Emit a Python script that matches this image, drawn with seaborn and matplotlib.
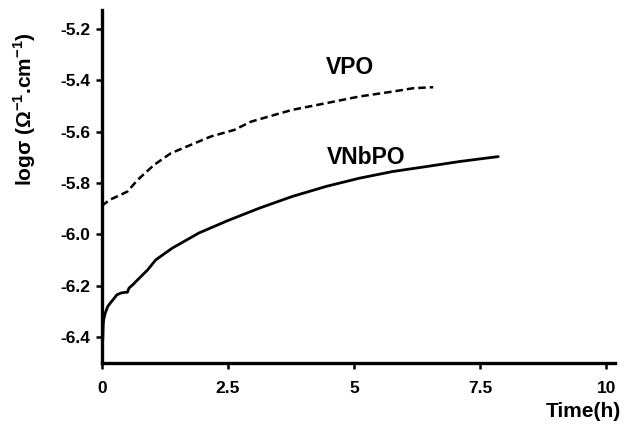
import matplotlib
matplotlib.use("Agg")
import matplotlib.pyplot as plt
import seaborn as sns

# Values
vpo_time = [0, 0.16, 0.35, 0.51, 0.71, 1.04, 1.37, 1.77, 2.16, 2.63, 2.96,
            3.42, 3.78, 4.45, 5.11, 5.77, 6.17, 6.57]
vpo_logsigma = [-5.889, -5.865, -5.848, -5.833, -5.788, -5.729, -5.684, -5.651,
                -5.619, -5.593, -5.561, -5.535, -5.515, -5.489, -5.463, -5.444,
                -5.431, -5.427]

vnbpo_time = [0, 0.005, 0.01, 0.015, 0.02, 0.03, 0.04, 0.07, 0.12, 0.17, 0.24,
              0.3, 0.38, 0.47, 0.51, 0.54, 0.62, 0.71, 0.91, 1.07, 1.4, 1.93,
              2.5, 3.12, 3.78, 4.45, 5.11, 5.77, 6.43, 7.1, 7.86]
vnbpo_logsigma = [-6.49, -6.42, -6.45, -6.38, -6.41, -6.35, -6.33, -6.306,
                  -6.28, -6.267, -6.25, -6.235, -6.228, -6.225, -6.225, -6.209,
                  -6.195, -6.177, -6.138, -6.099, -6.053, -5.994, -5.946, -5.898,
                  -5.852, -5.813, -5.781, -5.755, -5.736, -5.716, -5.697]

x_ticks = [0, 2.5, 5, 7.5, 10]
x_tick_labels = ["0", "2.5", "5", "7.5", "10"]
y_ticks = [-6.4, -6.2, -6.0, -5.8, -5.6, -5.4, -5.2]
y_tick_labels = ["-6.4", "-6.2", "-6.0", "-5.8", "-5.6", "-5.4", "-5.2"]

sns.set_style("ticks")
plt.rcParams["font.family"] = ["Liberation Sans", "DejaVu Sans"]
plt.rcParams["font.weight"] = "bold"
plt.rcParams["axes.unicode_minus"] = False
plt.rcParams["text.color"] = "black"
plt.rcParams["axes.labelcolor"] = "black"

fig = plt.figure(figsize=(6.24, 4.29), dpi=100)
ax = fig.add_axes([0.163, 0.154, 0.823, 0.823])

# Curves
sns.lineplot(x=vpo_time, y=vpo_logsigma, ax=ax, color="black", sort=False,
             linewidth=1.8, linestyle=(0, (3.0, 1.6)))
sns.lineplot(x=vnbpo_time, y=vnbpo_logsigma, ax=ax, color="black", sort=False,
             linewidth=2.0)

ax.text(4.93, -5.352, "VPO", fontsize=16.5, fontweight="bold",
        ha="center", va="center", color="black")
ax.text(5.25, -5.702, "VNbPO", fontsize=16.5, fontweight="bold",
        ha="center", va="center", color="black")

ax.set_xlim(0, 10.18)
ax.set_ylim(-6.5, -5.126)
ax.set_xticks(x_ticks)
ax.set_xticklabels(x_tick_labels)
ax.set_yticks(y_ticks)
ax.set_yticklabels(y_tick_labels)

ax.spines["top"].set_visible(False)
ax.spines["right"].set_visible(False)
for side in ["left", "bottom"]:
    ax.spines[side].set_linewidth(2.4)
    ax.spines[side].set_color("black")
ax.tick_params(axis="x", length=4, width=1.8, pad=9, labelsize=12.5, colors="black")
ax.tick_params(axis="y", length=4, width=1.8, pad=4, labelsize=12.5, colors="black")
for lbl in ax.get_xticklabels() + ax.get_yticklabels():
    lbl.set_fontweight("bold")

ax.set_xlabel("")
ax.set_ylabel("")
fig.text(0.995, 0.04, "Time(h)", fontsize=15, fontweight="bold",
         ha="right", va="center", color="black")
fig.text(0.04, 0.745, "log\u03c3 (\u03a9$^{\\mathregular{-1}}$.cm$^{\\mathregular{-1}}$)",
         fontsize=15, fontweight="bold", rotation=90, ha="center", va="center",
         color="black")

fig.savefig("out.png", dpi=100)
